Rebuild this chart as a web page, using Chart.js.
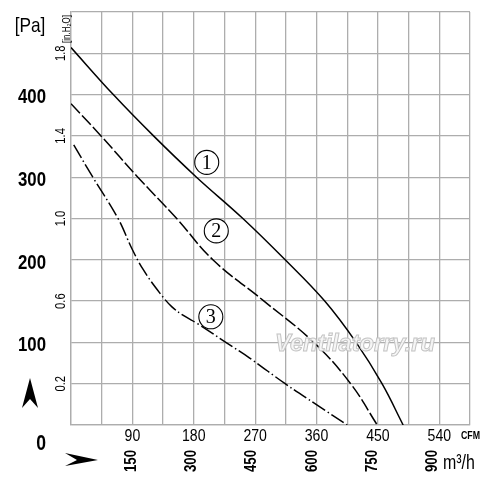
<!DOCTYPE html>
<html>
<head>
<meta charset="utf-8">
<script src="https://cdn.jsdelivr.net/npm/chart.js"></script>
<style>
  html, body { margin: 0; padding: 0; background: #fff; }
  canvas { display: block; }
</style>
</head>
<body>
<canvas id="fanCurve" width="500" height="488"></canvas>
<script>
// airflow in CFM, static pressure in Pa
const curve1Flow = [0, 62, 121, 184, 252, 314, 372, 418, 456, 487];
const curve1Pressure = [457, 400, 350, 300, 250, 200, 150, 100, 50, 0];
const curve2Flow = [0, 44, 98, 155, 208, 283, 356, 410, 449];
const curve2Pressure = [389, 350, 300, 250, 200, 150, 100, 50, 0];
const curve3Flow = [4, 32, 69, 89, 106, 130, 148, 166, 185, 227, 262, 314, 361, 405];
const curve3Pressure = [339, 300, 250, 214, 188, 160, 143, 132, 123, 100, 81, 50, 24, 0];

// tick labels
const cfmTicks = [90, 180, 270, 360, 450, 540];
const m3hTicks = [150, 300, 450, 600, 750, 900];
const paTicks = [100, 200, 300, 400];
const inchTicks = ['0.2', '0.6', '1.0', '1.4', '1.8'];

// curve labels: [text, flow, pressure]
const curveTags = [['1', 199, 318], ['2', 213, 235], ['3', 205, 131]];

const M3H_PER_CFM = 1.699;
const PA_PER_INCH = 250;

const toPoints = (xs, ys) => xs.map((x, i) => ({ x, y: ys[i] }));

const drawText = (ctx, text, x, y, opt) => {
    ctx.save();
    ctx.translate(x, y);
    if (opt.rotate) ctx.rotate(opt.rotate);
    ctx.scale(opt.squeeze || 1, 1);
    ctx.font = opt.font;
    ctx.fillStyle = opt.color || '#000';
    ctx.textAlign = opt.align || 'center';
    ctx.textBaseline = opt.baseline || 'middle';
    ctx.fillText(text, 0, 0);
    ctx.restore();
};

const axisText = {
    id: 'axisText',
    afterDraw(chart) {
        const { ctx, scales: { x, y } } = chart;
        const sans = '"Liberation Sans", Arial, sans-serif';

        // Pa axis
        drawText(ctx, '[Pa]', 30, 26, { font: `21px ${sans}`, squeeze: 0.82 });
        paTicks.forEach(v => {
            drawText(ctx, String(v), 46, y.getPixelForValue(v) + 3,
                { font: `bold 21px ${sans}`, align: 'right', squeeze: 0.8 });
        });
        drawText(ctx, '0', 46, y.bottom + 19, { font: `bold 22px ${sans}`, align: 'right', squeeze: 0.8 });

        // in.H2O axis
        inchTicks.forEach(v => {
            drawText(ctx, v, 61, y.getPixelForValue(parseFloat(v) * PA_PER_INCH),
                { font: `15px ${sans}`, rotate: -Math.PI / 2, squeeze: 0.75 });
        });
        drawText(ctx, '[in.H₂O]', 67, 29, { font: `10px ${sans}`, rotate: -Math.PI / 2, squeeze: 0.8 });

        // CFM axis
        cfmTicks.forEach(v => {
            drawText(ctx, String(v), x.getPixelForValue(v), y.bottom + 12,
                { font: `16px ${sans}`, squeeze: 0.88 });
        });
        drawText(ctx, 'CFM', 461, y.bottom + 11, { font: `bold 11px ${sans}`, align: 'left', squeeze: 0.8 });

        // m3/h axis
        m3hTicks.forEach(v => {
            drawText(ctx, String(v), x.getPixelForValue(v / M3H_PER_CFM), y.bottom + 36,
                { font: `bold 17px ${sans}`, rotate: -Math.PI / 2, squeeze: 0.78 });
        });
        drawText(ctx, 'm³/h', 443, y.bottom + 38, { font: `21px ${sans}`, align: 'left', squeeze: 0.76 });

        // arrows
        ctx.save();
        ctx.fillStyle = '#000';
        ctx.beginPath();
        ctx.moveTo(98, 460); ctx.lineTo(65, 453); ctx.lineTo(77, 460); ctx.lineTo(65, 466);
        ctx.closePath(); ctx.fill();
        ctx.beginPath();
        ctx.moveTo(30, 378); ctx.lineTo(22, 408); ctx.lineTo(30, 399); ctx.lineTo(38, 408);
        ctx.closePath(); ctx.fill();
        ctx.restore();

        // curve tags
        curveTags.forEach(([t, fx, fy]) => {
            const cx = x.getPixelForValue(fx), cy = y.getPixelForValue(fy);
            ctx.save();
            ctx.fillStyle = '#fff';
            ctx.strokeStyle = '#000';
            ctx.lineWidth = 1.1;
            ctx.beginPath();
            ctx.arc(cx, cy, 12, 0, Math.PI * 2);
            ctx.fill();
            ctx.stroke();
            ctx.restore();
            drawText(ctx, t, cx, cy + 1, { font: '20px "Liberation Serif", serif' });
        });

        // watermark
        ctx.save();
        ctx.font = `italic bold 24px ${sans}`;
        const w = ctx.measureText('Ventilatorry.ru').width;
        ctx.translate(355, 344);
        ctx.scale(160 / w, 1);
        ctx.textAlign = 'center';
        ctx.textBaseline = 'middle';
        ctx.fillStyle = 'rgba(245,245,245,0.9)';
        ctx.fillText('Ventilatorry.ru', 0, 0);
        ctx.strokeStyle = '#c4c4c4';
        ctx.lineWidth = 1;
        ctx.strokeText('Ventilatorry.ru', 0, 0);
        ctx.restore();
    }
};

const lineSet = (data, dash) => ({
    data,
    showLine: true,
    borderColor: '#000',
    borderWidth: 1.5,
    borderDash: dash,
    pointRadius: 0,
    fill: false,
    tension: 0.4
});

const gridStyle = { color: '#adadad', lineWidth: 1.3, drawTicks: false };

new Chart(document.getElementById('fanCurve'), {
    type: 'scatter',
    data: {
        datasets: [
            lineSet(toPoints(curve1Flow, curve1Pressure), []),
            lineSet(toPoints(curve2Flow, curve2Pressure), [13, 3]),
            lineSet(toPoints(curve3Flow, curve3Pressure), [15, 3, 1.5, 3])
        ]
    },
    options: {
        responsive: false,
        animation: false,
        layout: { padding: { left: 71, right: 30, top: 12, bottom: 63 } },
        plugins: { legend: { display: false }, tooltip: { enabled: false } },
        scales: {
            x: {
                type: 'linear', min: 0, max: 585,
                ticks: { stepSize: 45, display: false },
                grid: gridStyle,
                border: { color: '#adadad', width: 1.3 }
            },
            y: {
                type: 'linear', min: 0, max: 500,
                ticks: { stepSize: 50, display: false },
                grid: gridStyle,
                border: { color: '#adadad', width: 1.3 }
            }
        }
    },
    plugins: [axisText]
});
</script>
</body>
</html>
